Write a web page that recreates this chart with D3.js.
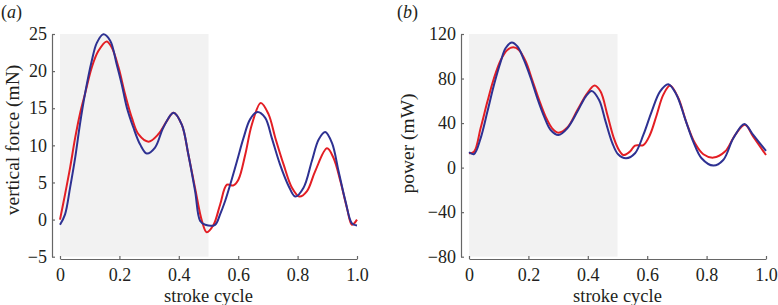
<!DOCTYPE html>
<html lang="en">
<head>
	<meta charset="utf-8">
	<title>Stroke cycle force and power</title>
	<script src="https://d3js.org/d3.v7.min.js"></script>
	<style>
		body { margin: 0; background: #fff; }
		text { font-family: "Liberation Serif", "DejaVu Serif", serif; fill: #231f20; }
	</style>
</head>
<body>
	<div id="chart"></div>
	<script>
		// stroke cycle points, [phase, value]
		let forceRed = [[0,0],[0.017,3.4],[0.034,7.0],[0.051,11.0],[0.067,14.2],[0.084,16.9],[0.107,20.5],[0.129,22.7],[0.157,24.0],
			[0.174,23.2],[0.197,20.5],[0.219,16.9],[0.242,13.7],[0.264,11.5],[0.298,10.5],[0.331,11.5],[0.360,13.3],[0.382,14.4],
			[0.410,12.8],[0.432,8.8],[0.455,4.2],[0.478,-0.2],[0.494,-1.7],[0.517,-0.7],[0.539,2.0],[0.562,4.7],[0.584,4.6],
			[0.601,5.4],[0.624,8.8],[0.646,12.8],[0.676,15.7],[0.702,14.2],[0.725,11.0],[0.753,7.4],[0.781,4.3],[0.806,3.1],
			[0.831,3.8],[0.859,6.5],[0.899,9.6],[0.921,8.3],[0.944,5.2],[0.966,1.6],[0.983,-0.7],[1.0,0.0]];
		let forceBlue = [[0,-0.7],[0.017,0.7],[0.034,4.3],[0.051,8.3],[0.067,12.8],[0.084,16.9],[0.107,21.4],[0.124,23.8],[0.146,24.95],
			[0.169,24.1],[0.191,20.9],[0.208,18.2],[0.225,15.1],[0.247,12.4],[0.270,10.1],[0.292,8.9],[0.320,9.7],[0.348,12.4],
			[0.382,14.4],[0.410,12.8],[0.432,8.8],[0.455,3.8],[0.472,-0.2],[0.489,-0.7],[0.522,-0.7],[0.539,0.7],[0.556,2.5],
			[0.573,4.7],[0.596,7.9],[0.618,11.0],[0.640,13.5],[0.665,14.5],[0.691,13.7],[0.713,11.0],[0.741,7.4],[0.770,4.5],
			[0.792,3.1],[0.820,4.3],[0.848,7.9],[0.871,10.8],[0.893,11.8],[0.916,10.3],[0.938,6.5],[0.961,2.5],[0.983,-0.5],[1.0,-0.8]];
		let powerRed = [[0,12.8],[0.017,14.3],[0.039,35.3],[0.062,59.3],[0.084,80.3],[0.107,96.7],[0.129,105.7],[0.149,108],
			[0.168,105.7],[0.191,95.3],[0.213,78.7],[0.236,60.8],[0.258,45.8],[0.280,35.3],[0.301,31.4],[0.331,36],[0.365,51.8],
			[0.398,66.8],[0.423,73.7],[0.443,68.3],[0.466,47.3],[0.488,26.3],[0.505,15.8],[0.520,11.3],[0.542,14.4],[0.559,19.8],
			[0.587,20.3],[0.609,29.3],[0.632,47.3],[0.654,65.3],[0.677,73.7],[0.705,62.3],[0.733,39.8],[0.761,21.8],[0.789,12.0],
			[0.823,9.0],[0.862,14.4],[0.896,29.3],[0.929,38.5],[0.957,27.8],[1.0,11.3]];
		let powerBlue = [[0,13.8],[0.017,12.2],[0.039,26.3],[0.062,50.3],[0.084,74.2],[0.107,95.3],[0.123,107.2],[0.144,112.3],
			[0.163,108.8],[0.185,96.7],[0.208,80.3],[0.230,62.3],[0.253,45.8],[0.275,33.8],[0.301,29.3],[0.331,35.3],[0.365,50.3],
			[0.393,63.8],[0.413,68.9],[0.438,60.8],[0.460,41.3],[0.483,21.8],[0.502,12.0],[0.529,8.4],[0.559,12.9],[0.587,29.3],
			[0.615,50.3],[0.643,68.3],[0.671,74.9],[0.699,65.3],[0.727,44.3],[0.755,23.4],[0.783,8.4],[0.823,1.8],[0.856,6.8],
			[0.890,26.3],[0.927,39.2],[0.957,29.3],[1.0,15]];

		let xTicks = [0, 0.2, 0.4, 0.6, 0.8, 1.0];
		let forceTicks = [-5, 0, 5, 10, 15, 20, 25];
		let powerTicks = [-80, -40, 0, 40, 80, 120];
		let shadeEnd = 0.5;

		let svg = d3.select("#chart")
			.append("svg")
			.attr("width", 778)
			.attr("height", 305);

		function panel(opt) {
			let x = d3.scaleLinear().domain([0, 1]).range([opt.left, opt.left + 297]);
			let y = d3.scaleLinear().domain(opt.yDomain).range([256.7, 34]);

			// grey half of the stroke
			svg.append("rect")
				.attr("x", x(0))
				.attr("y", y(opt.yDomain[1]))
				.attr("width", x(shadeEnd) - x(0))
				.attr("height", y(opt.yDomain[0]) - y(opt.yDomain[1]))
				.attr("fill", "#f2f2f2");

			// y axis, offset to the left
			let ya = svg.append("g")
				.attr("transform", "translate(" + (opt.left - 8) + ",0)")
				.call(d3.axisLeft(y).tickValues(opt.yTicks).tickSizeInner(-3).tickSizeOuter(0).tickPadding(5)
					.tickFormat(d => d < 0 ? "\u2212" + Math.abs(d) : d));
			// x axis, a little below
			let xa = svg.append("g")
				.attr("transform", "translate(0,259)")
				.call(d3.axisBottom(x).tickValues(xTicks).tickSizeInner(-3).tickSizeOuter(0).tickPadding(9)
					.tickFormat(d => d === 0 ? "0" : d3.format(".1f")(d)));
			[ya, xa].forEach(a => {
				a.select(".domain").attr("stroke", "#666").attr("stroke-width", 1.2);
				a.selectAll(".tick line").attr("stroke", "#666").attr("stroke-width", 1.2);
				a.selectAll(".tick text").attr("fill", "#231f20")
					.style("font-family", "'Liberation Serif', serif").style("font-size", "18px");
			});

			let line = d3.line()
				.x(d => x(d[0]))
				.y(d => y(d[1]))
				.curve(d3.curveCatmullRom.alpha(0.5));
			svg.append("path")
				.datum(opt.red)
				.attr("fill", "none")
				.attr("stroke", "#e31e24")
				.attr("stroke-width", 2)
				.attr("d", line);
			svg.append("path")
				.datum(opt.blue)
				.attr("fill", "none")
				.attr("stroke", "#2e3192")
				.attr("stroke-width", 2)
				.attr("d", line);

			svg.append("text")
				.attr("x", x(0.5))
				.attr("y", 302)
				.attr("text-anchor", "middle")
				.style("font-size", "18.5px")
				.text("stroke cycle");
			svg.append("text")
				.attr("transform", "translate(" + opt.labelX + "," + opt.labelY + ") rotate(-90)")
				.attr("text-anchor", "middle")
				.style("font-size", "19.5px")
				.text(opt.yLabel);
			let tag = svg.append("text")
				.attr("x", opt.tagX)
				.attr("y", 18)
				.style("font-size", "18px");
			tag.append("tspan").text("(");
			tag.append("tspan").style("font-style", "italic").text(opt.tag);
			tag.append("tspan").text(")");
		}

		panel({ left: 60, yDomain: [-5, 25], yTicks: forceTicks, red: forceRed, blue: forceBlue,
			yLabel: "vertical force (mN)", labelX: 18.5, labelY: 140, tag: "a", tagX: 1 });
		panel({ left: 469, yDomain: [-80, 120], yTicks: powerTicks, red: powerRed, blue: powerBlue,
			yLabel: "power (mW)", labelX: 413.5, labelY: 143.5, tag: "b", tagX: 397 });
	</script>
</body>
</html>
